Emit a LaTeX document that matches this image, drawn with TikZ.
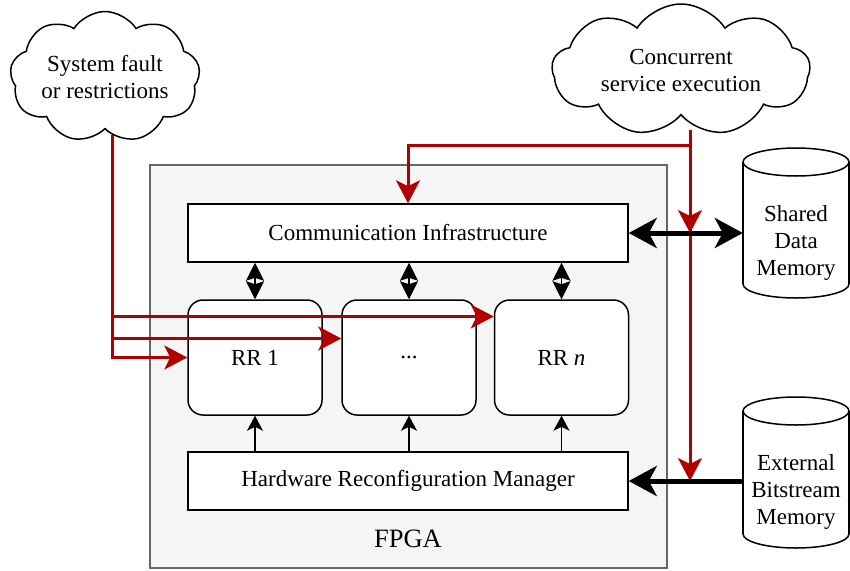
\documentclass[tikz,border=0pt]{standalone}
\usepackage{fontspec}
\setmainfont{Liberation Serif}
\usetikzlibrary{arrows.meta,shapes.symbols,calc}
\definecolor{fpgafill}{HTML}{F5F5F5}
\definecolor{fpgaline}{HTML}{666666}
\definecolor{sigred}{HTML}{B20000}

\begin{document}
\begin{tikzpicture}[x=1pt,y=-1pt,
  lbl/.style={font=\fontsize{23}{27}\selectfont, align=center},
  blk/.style={draw=black, line width=1.5pt, fill=white, minimum width=440pt,
    minimum height=58pt, inner sep=0pt, lbl},
  rrbox/.style={draw=black, line width=1.5pt, fill=white, rounded corners=15pt,
    minimum width=134pt, minimum height=115pt, inner sep=0pt, lbl},
  cloudnode/.style={cloud, cloud puffs=9, cloud puff arc=115, cloud ignores aspect,
    draw=black, line width=1.5pt, fill=white, lbl, inner sep=0pt},
  memspan/.style={minimum width=106pt, inner sep=0pt, lbl},
  redline/.style={draw=sigred, line width=3pt},
  redarrow/.style={redline, -{Stealth[length=23pt,width=24pt,inset=6pt]}},
  bus/.style={draw=black, line width=5pt},
  bustip/.tip={Stealth[length=28pt,width=30pt,inset=8pt]},
  pairtip/.tip={Stealth[length=18pt,width=18pt,inset=3pt]},
  linkpair/.style={draw=black, line width=1.5pt, pairtip-pairtip},
  cfgarrow/.style={draw=black, line width=1.5pt,
    -{Stealth[length=15pt,width=16pt,inset=4pt]}},
  memline/.style={draw=black, line width=1.5pt}
]
\useasboundingbox (0,0) rectangle (850,570);

% FPGA device boundary
\node[draw=fpgaline, line width=1.5pt, fill=fpgafill, minimum width=517pt,
  minimum height=403pt, inner sep=0pt] (fpga) at (408.5,366.5) {};
\node[font=\fontsize{26.5}{30}\selectfont] (fpgalbl) at (408,539) {FPGA};

% On-chip blocks
\node[blk] (comm) at (408,233) {Communication Infrastructure};
\node[blk] (hrm) at (408,481) {Hardware Reconfiguration Manager};
\node[rrbox] (rr1) at (255,357.5) {RR 1};
\node[rrbox] (rrd) at (409,357.5) {...};
\node[rrbox] (rrn) at (561.5,357.5) {RR \textit{n}};

% Bus links between communication infrastructure and regions
\foreach \r in {rr1,rrd,rrn}{
  \draw[linkpair] (comm.south -| \r.north) -- (\r.north);
  \draw[cfgarrow] (hrm.north -| \r.south) -- (\r.south);
}

% Shared data memory cylinder
\fill[white] (796,284) ellipse [x radius=53, y radius=14];
\draw[memline] (796,284) ellipse [x radius=53, y radius=14];
\fill[white] (743,162) rectangle (849,284);
\draw[memline] (743,162) -- (743,284) (849,162) -- (849,284);
\draw[memline, fill=white] (796,162) ellipse [x radius=53, y radius=14];
\node[memspan] (shd) at (796,243) {Shared\\Data\\Memory};

% External bitstream memory cylinder
\fill[white] (796,534) ellipse [x radius=53, y radius=14];
\draw[memline] (796,534) ellipse [x radius=53, y radius=14];
\fill[white] (743,411) rectangle (849,534);
\draw[memline] (743,411) -- (743,534) (849,411) -- (849,534);
\draw[memline, fill=white] (796,411) ellipse [x radius=53, y radius=14];
\node[memspan] (ext) at (796,492) {External\\Bitstream\\Memory};

% Fault / restriction signals
\coordinate (sfo) at (112,135);
\draw[redarrow] (sfo) |- (rr1.west);
\draw[redarrow] (sfo) |- ($(rrd.west)+(0,-19)$);
\draw[redarrow] (sfo) |- ($(rrn.west)+(0,-41)$);

% Concurrent service signals
\coordinate (ceo) at (690,130);
\coordinate (cej) at (690,145);
\coordinate (jc) at (comm.east -| ceo);
\coordinate (jh) at (hrm.east -| ceo);
\draw[redarrow] (ceo) -- (cej) -| (comm.north);
\draw[redarrow] (ceo) -- (jh);
\draw[redarrow] (ceo) -- (jc);

% Memory buses
\draw[bus, bustip-bustip] (comm.east) -- (comm.east -| shd.west);
\draw[bus, -bustip] (hrm.east -| ext.west) -- (hrm.east);

% Event clouds
\node[cloudnode, minimum width=190pt, minimum height=131pt] (fault) at (105,77)
  {System fault\\or restrictions};
\node[cloudnode, minimum width=258pt, minimum height=132pt] (conc) at (681,70)
  {Concurrent\\service execution};
\end{tikzpicture}
\end{document}
